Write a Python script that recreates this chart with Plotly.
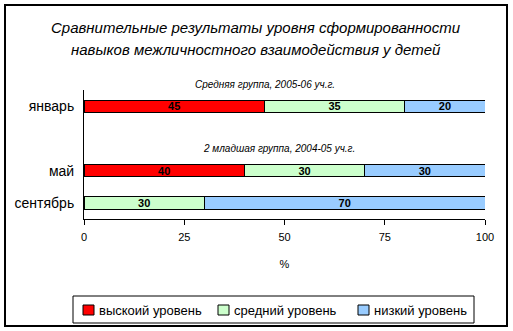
import plotly.graph_objects as go

categories = ["январь", "май", "сентябрь"]
axis_order = ["сентябрь", "май", " ", "январь"]
series_names = ["выскоий уровень", "средний уровень", "низкий уровень"]
high = [45, 40, 0]
mid = [35, 30, 30]
low = [20, 30, 70]
colors = ["#FF0000", "#CCFFCC", "#99CCFF"]
x_ticks = [0, 25, 50, 75, 100]
title_lines = ["Сравнительные результаты уровня сформированности",
               "навыков межличностного взаимодействия у детей"]
group_notes = ["Средняя группа, 2005-06 уч.г.", "2 младшая группа, 2004-05 уч.г."]

FONT = "Liberation Sans, Arial, sans-serif"

# plot area in pixels (for placing decorations)
L, R, T, B = 84, 485, 90, 219
def px(x):
    return (x - L) / (R - L)
def py(y):
    return (B - y) / (B - T)

fig = go.Figure()
for name, vals, col in zip(series_names, [high, mid, low], colors):
    texts = [str(v) if v else "" for v in vals]
    fig.add_trace(go.Bar(
        y=categories, x=vals, name=name, orientation="h",
        marker=dict(color=col, line=dict(color="black", width=1)),
        text=texts, textposition="inside", insidetextanchor="middle",
        textangle=0,
        textfont=dict(family=FONT, size=11, color="black", weight="bold"),
        width=0.38, showlegend=False,
    ))

fig.update_layout(
    barmode="stack",
    width=513, height=331,
    margin=dict(l=L, r=513 - R, t=T, b=331 - B, autoexpand=False),
    paper_bgcolor="white", plot_bgcolor="white",
    font=dict(family=FONT, color="black"),
    uniformtext=dict(minsize=8, mode="show"),
    xaxis=dict(
        range=[0, 100], tickvals=x_ticks, ticks="outside", ticklen=5,
        tickcolor="black", showline=True, linecolor="black", linewidth=1,
        showgrid=False, zeroline=False, tickfont=dict(size=11),
        ticklabelstandoff=3,
        title=dict(text="%", font=dict(size=11), standoff=18),
        fixedrange=True,
    ),
    yaxis=dict(
        type="category", categoryorder="array", categoryarray=axis_order,
        range=[-0.5, 3.5], showline=True, linecolor="black", linewidth=1,
        showgrid=False, ticks="", tickfont=dict(size=14), ticklabelstandoff=6,
    ),
    showlegend=False,
)

# title (two lines)
for line, ypix in zip(title_lines, [27, 50]):
    fig.add_annotation(text="<i>" + line + "</i>", xref="paper", yref="paper",
                       x=px(256), y=py(ypix), xanchor="center", yanchor="middle",
                       showarrow=False, font=dict(size=15, family=FONT))

# group notes
for note, xpix, ypix in zip(group_notes, [265, 279], [85, 148]):
    fig.add_annotation(text="<i>" + note + "</i>", xref="paper", yref="paper",
                       x=px(xpix), y=py(ypix), xanchor="center", yanchor="middle",
                       showarrow=False, font=dict(size=10, family=FONT))

# legend (box, swatches, labels)
fig.add_shape(type="rect", xref="paper", yref="paper",
              x0=px(73), x1=px(474), y0=py(323), y1=py(296),
              line=dict(color="black", width=1), fillcolor="white")
for name, col, sx in zip(series_names, colors, [83, 218, 358]):
    fig.add_shape(type="rect", xref="paper", yref="paper",
                  x0=px(sx), x1=px(sx + 11), y0=py(315), y1=py(305),
                  line=dict(color="black", width=1), fillcolor=col)
    fig.add_annotation(text=name, xref="paper", yref="paper",
                       x=px(sx + 14), y=py(310), xanchor="left", yanchor="middle",
                       showarrow=False, font=dict(size=13, family=FONT))

# outer border
fig.add_shape(type="rect", xref="paper", yref="paper",
              x0=px(5), x1=px(507), y0=py(326), y1=py(5),
              line=dict(color="black", width=2), fillcolor="rgba(0,0,0,0)", layer="below")

fig.write_html("out.html")
